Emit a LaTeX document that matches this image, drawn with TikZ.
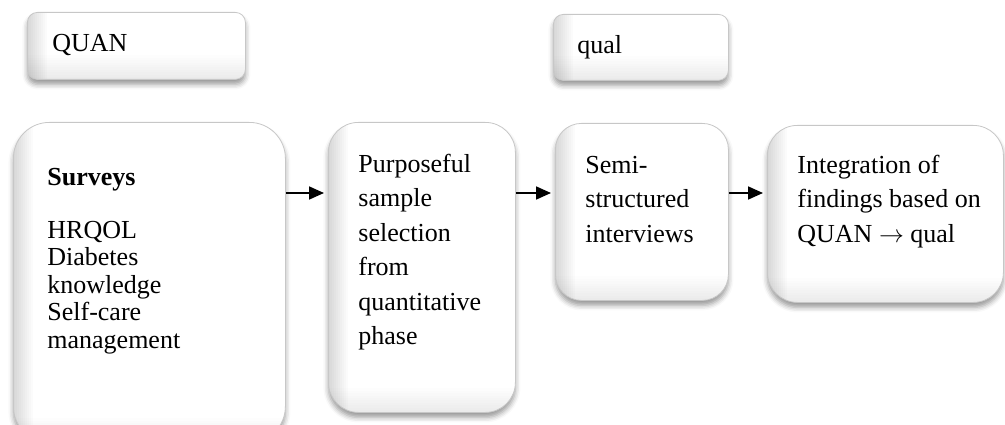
\documentclass[tikz,border=0pt]{standalone}
\usepackage{fontspec}
\setmainfont{Liberation Serif}
\usepackage{tikz}
\usetikzlibrary{arrows.meta,positioning,shadows.blur}

\begin{document}
\begin{tikzpicture}[
    x=1pt, y=-1pt,
    panel/.style={draw=black!22, line width=0.8pt, rounded corners=#1, fill=white,
        anchor=north west, inner sep=0pt, align=flush left,
        font=\fontsize{26pt}{34.5pt}\selectfont,
        blur shadow={shadow xshift=0pt, shadow yshift=-5pt, shadow blur radius=5pt, shadow opacity=40},
        path picture={
            \foreach \k in {1,...,10} {
                \fill[sharp corners, black, opacity=.014]
                    (path picture bounding box.south west) rectangle ([xshift=\k*2pt]path picture bounding box.north west);
                \fill[sharp corners, black, opacity=.008]
                    (path picture bounding box.south west) rectangle ([yshift=\k*2.4pt]path picture bounding box.south east);
            }
        }},
    link/.style={-{Triangle[length=15pt, width=13pt]}, line width=1.8pt, shorten >=4pt}
]
\useasboundingbox (0,0) rectangle (1005,425);

% phase labels
\node[panel=10pt, minimum width=218pt, text width=168pt, text height=39pt, text depth=28pt] (quan) at (27,12) {QUAN};
\node[panel=10pt, minimum width=175pt, text width=127pt, text height=39pt, text depth=27pt] (qual) at (553,14) {qual};

% steps
\node[panel=36pt, minimum width=272pt, text width=204pt, text height=63pt, text depth=257pt,
      font=\fontsize{26pt}{27.5pt}\selectfont] (surveys) at (13,122)
    {\textbf{Surveys}\\[25.5pt]HRQOL\\Diabetes\\knowledge\\Self-care\\management};
\node[panel=30pt, minimum width=187pt, text width=127pt, text height=50pt, text depth=240pt] (purpose) at (328,122)
    {Purposeful\\sample\\selection\\from\\quantitative\\phase};
\node[panel=26pt, minimum width=173pt, text width=113pt, text height=50pt, text depth=127pt] (semi) at (555,123)
    {Semi-\\structured\\interviews};
\node[panel=30pt, minimum width=236pt, text width=176pt, text height=48pt, text depth=129pt] (integ) at (767,125)
    {Integration of\\\mbox{findings based on}\\QUAN $\rightarrow$ qual};

\coordinate (flow) at (0,193);
\draw[link] (surveys.east |- flow) -- (purpose.west |- flow);
\draw[link] (purpose.east |- flow) -- (semi.west |- flow);
\draw[link] (semi.east |- flow) -- (integ.west |- flow);
\end{tikzpicture}
\end{document}
